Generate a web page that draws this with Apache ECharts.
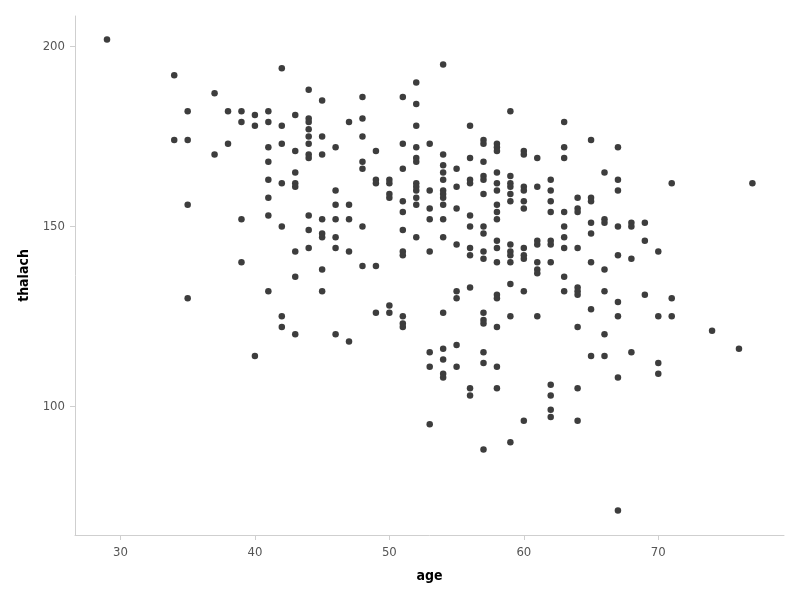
<!DOCTYPE html>
<html>
<head>
<meta charset="utf-8">
<script src="https://cdn.jsdelivr.net/npm/echarts@6/dist/echarts.min.js"></script>
<style>html,body{margin:0;padding:0;background:#fff}#chart{width:800px;height:600px}</style>
</head>
<body>
<div id="chart"></div>
<script>
// ages present in the picture, and thalach readings seen at each age
const ages = [29,34,35,37,38,39,40,41,42,43,44,45,46,47,48,49,50,51,52,53,54,55,56,57,58,59,60,61,62,63,64,65,66,67,68,69,70,71,74,76,77];
const thalachByAge = [
  [202],
  [192,174],
  [182,174,156,130],
  [187,170],
  [182,173],
  [182,179,152,140],
  [181,178,114],
  [182,179,172,168,163,158,153,132],
  [194,178,173,162,150,125,122],
  [181,171,165,162,161,143,136,120],
  [188,180,179,177,175,173,170,169,153,149,144],
  [185,175,170,152,148,147,138,132],
  [172,160,156,152,147,144,120],
  [179,156,152,143,118],
  [186,180,175,168,166,150,139],
  [171,163,162,139,126],
  [163,162,159,158,128,126],
  [186,173,166,157,154,149,143,142,125,123,122],
  [190,184,178,172,169,168,162,161,160,158,156,147],
  [173,160,155,152,143,115,111,95],
  [195,170,167,165,163,160,159,158,156,152,147,126,116,113,109,108],
  [166,161,155,145,132,130,117,111],
  [178,169,163,162,153,150,144,142,133,105,103],
  [174,173,168,164,163,159,150,148,143,141,126,124,123,115,112,88],
  [173,172,171,165,162,160,156,154,152,146,144,140,131,130,122,111,105],
  [182,164,162,161,159,157,145,143,142,140,134,125,90],
  [171,170,161,160,157,155,144,142,141,132,96],
  [169,161,146,145,140,138,137,125],
  [163,160,157,154,146,145,140,106,103,99,97],
  [179,172,169,154,150,147,144,136,132],
  [158,155,154,144,133,132,131,122,105,96],
  [174,158,157,151,148,140,127,114],
  [165,152,151,138,132,120,114],
  [172,163,160,150,142,129,125,108,71],
  [151,150,141,115],
  [151,146,131],
  [143,125,112,109],
  [162,130,125],
  [121],
  [116],
  [162]
];
const xTicks = [30,40,50,60,70];
const yTicks = [100,150,200];

const points = [];
ages.forEach((a, i) => thalachByAge[i].forEach(v => points.push([a, v])));

const font = "'Liberation Sans Narrow','DejaVu Sans Condensed','Noto Sans',sans-serif";
const chart = echarts.init(document.getElementById('chart'), null, {renderer: 'canvas'});
chart.setOption({
  animation: false,
  grid: {left: 75, right: 16, top: 16, bottom: 65},
  xAxis: {
    type: 'value', min: 26.62, max: 79.35,
    name: 'age', nameLocation: 'middle', nameGap: 34,
    nameTextStyle: {fontFamily: font, fontSize: 14, fontWeight: 'bold', color: '#000'},
    splitLine: {show: false},
    axisLine: {onZero: false, lineStyle: {color: '#cfcfcf', width: 1}},
    axisTick: {show: true, length: 5, customValues: xTicks, lineStyle: {color: '#cfcfcf'}},
    axisLabel: {customValues: xTicks, fontFamily: font, fontSize: 13, color: '#555', margin: 11}
  },
  yAxis: {
    type: 'value', min: 64.2, max: 208.5,
    name: 'thalach', nameLocation: 'middle', nameGap: 44,
    nameTextStyle: {fontFamily: font, fontSize: 14, fontWeight: 'bold', color: '#000'},
    splitLine: {show: false},
    axisLine: {show: true, onZero: false, lineStyle: {color: '#cfcfcf', width: 1}},
    axisTick: {show: true, length: 5, customValues: yTicks, lineStyle: {color: '#cfcfcf'}},
    axisLabel: {customValues: yTicks, fontFamily: font, fontSize: 13, color: '#555', margin: 10}
  },
  series: [{
    type: 'scatter',
    data: points,
    symbolSize: 6.5,
    itemStyle: {color: '#3d3d3d', opacity: 1}
  }]
});
</script>
</body>
</html>
